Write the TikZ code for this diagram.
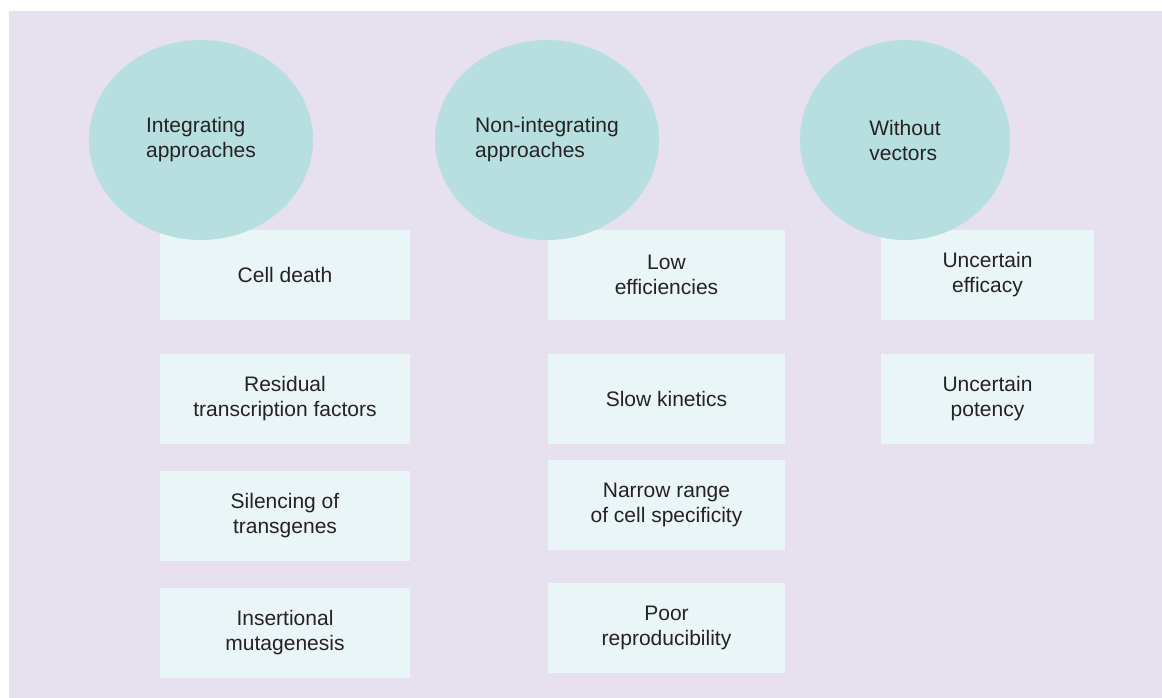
\documentclass[tikz,border=0pt]{standalone}
\usepackage{fontspec}
\setmainfont{Liberation Sans}
\usetikzlibrary{shapes.geometric}
\definecolor{bglav}{HTML}{E7E0EF}
\definecolor{ellcol}{HTML}{B8DFE0}
\definecolor{boxcol}{HTML}{EAF5F7}
\definecolor{txtcol}{HTML}{262223}
\begin{document}
\begin{tikzpicture}[x=1pt,y=-1pt,
  every node/.style={text=txtcol, font=\fontsize{21}{25}\selectfont},
  cat/.style={ellipse, fill=ellcol, inner sep=0pt, minimum width=224pt, minimum height=200pt, align=left},
  issue/.style={rectangle, fill=boxcol, inner sep=0pt, minimum height=90pt, align=center}]
\useasboundingbox (0,0) rectangle (1162,698);
\fill[bglav] (9,11) rectangle (1162,698);
% column 1 boxes
\node[issue, minimum width=250pt] (c1a) at (285,275) {Cell death};
\node[issue, minimum width=250pt] (c1b) at (285,399) {Residual\\transcription factors};
\node[issue, minimum width=250pt] (c1c) at (285,516) {Silencing of\\transgenes};
\node[issue, minimum width=250pt] (c1d) at (285,633) {Insertional\\mutagenesis};
% column 2 boxes
\node[issue, minimum width=237pt] (c2a) at (666.5,275) {Low\\efficiencies};
\node[issue, minimum width=237pt] (c2b) at (666.5,399) {Slow kinetics};
\node[issue, minimum width=237pt] (c2c) at (666.5,505) {Narrow range\\of cell specificity};
\node[issue, minimum width=237pt] (c2d) at (666.5,628) {Poor\\reproducibility};
% column 3 boxes
\node[issue, minimum width=213pt] (c3a) at (987.5,275) {Uncertain\\efficacy};
\node[issue, minimum width=213pt] (c3b) at (987.5,399) {Uncertain\\potency};
% ellipses
\node[cat] (e1) at (201,140) {Integrating\\approaches};
\node[cat] (e2) at (547,140) {Non-integrating\\approaches};
\node[cat, minimum width=210pt] (e3) at (905,140) {Without\\vectors};
\end{tikzpicture}
\end{document}
